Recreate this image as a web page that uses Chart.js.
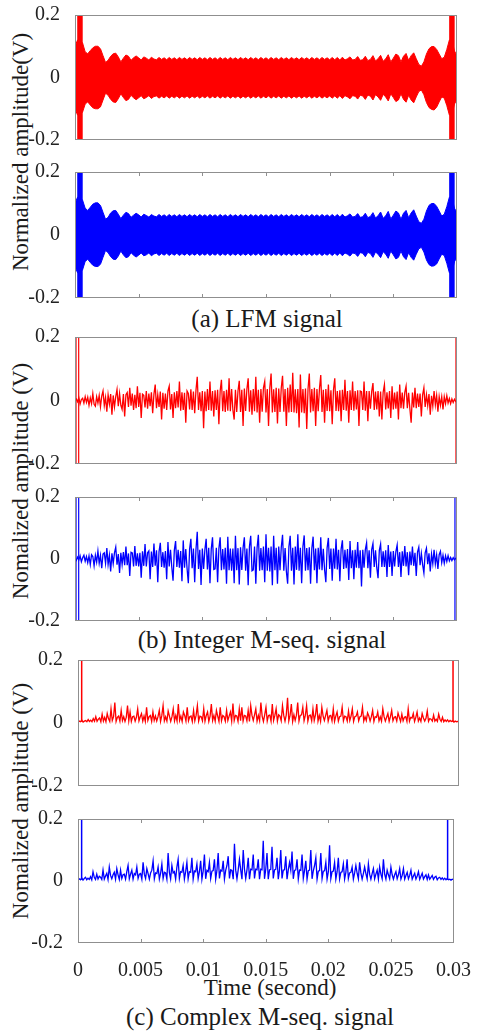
<!DOCTYPE html>
<html><head><meta charset="utf-8">
<script src="https://cdn.jsdelivr.net/npm/chart.js@4.4.1/dist/chart.umd.min.js"></script>
<style>
html,body{margin:0;padding:0;background:#fff;}
body{width:479px;height:1032px;position:relative;overflow:hidden;font-family:'Liberation Serif','Times New Roman',serif;}
.pc{position:absolute;left:0;}
.txt{position:absolute;white-space:nowrap;color:#1a1a1a;line-height:1;font-family:'Liberation Serif','Times New Roman',serif;}
.rot{transform:translate(-50%,-50%) rotate(-90deg);}
</style></head><body>
<div class="txt rot" style="left:20px;top:152px;font-size:23px;">Normalized amplitude(V)</div>
<div class="txt rot" style="left:20px;top:481px;font-size:23px;">Nomalized amplitude (V)</div>
<div class="txt rot" style="left:20px;top:801px;font-size:23px;">Nomalized amplitude (V)</div>
<div class="txt" style="left:267px;top:306px;font-size:25px;transform:translateX(-50%);">(a) LFM signal</div>
<div class="txt" style="left:262px;top:627px;font-size:25px;transform:translateX(-50%);">(b) Integer M-seq. signal</div>
<div class="txt" style="left:270px;top:976px;font-size:23px;transform:translateX(-50%);">Time (second)</div>
<div class="txt" style="left:260px;top:1004px;font-size:25px;transform:translateX(-50%);">(c) Complex M-seq. signal</div>
<script>
// ---- axis ticks ----
const xTickValues = [0, 0.005, 0.01, 0.015, 0.02, 0.025, 0.03];
const xTickLabels = ['0', '0.005', '0.01', '0.015', '0.02', '0.025', '0.03'];
const yTickValues = [-0.2, 0, 0.2];
const yTickLabels = ['-0.2', '0', '0.2'];

// ---- sampling grids (seconds per sample) ----
const lfmStep = 0.0002;
const mseqStep = 0.0001;

// ---- (a) LFM signal envelopes ----
const lfmUpperA = [0.1,0.12,0.12,0.11,0.082,0.076,0.086,0.095,0.1,0.1,
0.092,0.07,0.048,0.055,0.068,0.076,0.078,0.066,0.05,0.062,
0.072,0.068,0.055,0.063,0.069,0.063,0.056,0.066,0.062,0.056,
0.065,0.059,0.057,0.064,0.058,0.063,0.057,0.064,0.058,0.063,
0.057,0.064,0.058,0.063,0.057,0.064,0.058,0.063,0.057,0.064,
0.058,0.063,0.057,0.064,0.058,0.063,0.057,0.064,0.058,0.063,
0.057,0.064,0.058,0.063,0.057,0.064,0.058,0.063,0.057,0.064,
0.058,0.063,0.057,0.064,0.058,0.063,0.057,0.064,0.058,0.063,
0.057,0.064,0.058,0.063,0.057,0.064,0.058,0.063,0.057,0.064,
0.058,0.063,0.057,0.064,0.058,0.063,0.057,0.064,0.058,0.063,
0.057,0.064,0.057,0.064,0.056,0.065,0.056,0.06,0.066,0.056,
0.058,0.067,0.055,0.057,0.068,0.054,0.058,0.07,0.053,0.06,
0.071,0.052,0.06,0.073,0.05,0.062,0.075,0.07,0.05,0.068,
0.077,0.055,0.07,0.079,0.06,0.042,0.036,0.05,0.075,0.092,
0.099,0.099,0.09,0.075,0.06,0.065,0.09,0.12,0.12,0.085,0.07];
const lfmLowerA = [-0.1,-0.12,-0.12,-0.11,-0.085,-0.078,-0.088,-0.097,-0.1,-0.1,
-0.094,-0.072,-0.05,-0.057,-0.07,-0.078,-0.08,-0.068,-0.052,-0.064,
-0.074,-0.07,-0.057,-0.065,-0.071,-0.065,-0.058,-0.068,-0.064,-0.058,
-0.067,-0.061,-0.059,-0.066,-0.06,-0.065,-0.059,-0.066,-0.06,-0.065,
-0.059,-0.066,-0.06,-0.065,-0.059,-0.066,-0.06,-0.065,-0.059,-0.066,
-0.06,-0.065,-0.059,-0.066,-0.06,-0.065,-0.059,-0.066,-0.06,-0.065,
-0.059,-0.066,-0.06,-0.065,-0.059,-0.066,-0.06,-0.065,-0.059,-0.066,
-0.06,-0.065,-0.059,-0.066,-0.06,-0.065,-0.059,-0.066,-0.06,-0.065,
-0.059,-0.066,-0.06,-0.065,-0.059,-0.066,-0.06,-0.065,-0.059,-0.066,
-0.06,-0.065,-0.059,-0.066,-0.06,-0.065,-0.059,-0.066,-0.06,-0.065,
-0.059,-0.066,-0.059,-0.066,-0.058,-0.067,-0.058,-0.062,-0.068,-0.058,
-0.06,-0.069,-0.057,-0.059,-0.07,-0.056,-0.06,-0.072,-0.055,-0.062,
-0.073,-0.054,-0.062,-0.075,-0.052,-0.064,-0.077,-0.072,-0.052,-0.07,
-0.079,-0.057,-0.072,-0.081,-0.062,-0.045,-0.04,-0.055,-0.08,-0.096,
-0.102,-0.104,-0.095,-0.078,-0.062,-0.066,-0.09,-0.12,-0.12,-0.085,-0.07];
const lfmUpperB = [0.1,0.12,0.12,0.11,0.085,0.078,0.088,0.098,0.102,0.102,
0.094,0.072,0.05,0.056,0.07,0.077,0.078,0.066,0.052,0.063,
0.072,0.068,0.056,0.063,0.069,0.064,0.057,0.066,0.062,0.057,
0.065,0.06,0.058,0.065,0.059,0.064,0.058,0.065,0.059,0.064,
0.058,0.065,0.059,0.064,0.058,0.065,0.059,0.064,0.058,0.065,
0.059,0.064,0.058,0.065,0.059,0.064,0.058,0.065,0.059,0.064,
0.058,0.065,0.059,0.064,0.058,0.065,0.059,0.064,0.058,0.065,
0.059,0.064,0.058,0.065,0.059,0.064,0.058,0.065,0.059,0.064,
0.058,0.065,0.059,0.064,0.058,0.065,0.059,0.064,0.058,0.065,
0.059,0.064,0.058,0.065,0.059,0.064,0.058,0.065,0.059,0.064,
0.058,0.065,0.058,0.065,0.057,0.066,0.057,0.061,0.067,0.057,
0.059,0.068,0.056,0.058,0.069,0.055,0.059,0.071,0.054,0.061,
0.073,0.053,0.061,0.075,0.051,0.063,0.076,0.07,0.05,0.069,
0.078,0.055,0.07,0.08,0.06,0.042,0.037,0.05,0.076,0.094,
0.1,0.1,0.091,0.076,0.06,0.066,0.09,0.12,0.12,0.085,0.07];
const lfmLowerB = [-0.1,-0.12,-0.12,-0.11,-0.084,-0.077,-0.087,-0.096,-0.1,-0.1,
-0.093,-0.071,-0.049,-0.056,-0.069,-0.077,-0.078,-0.067,-0.051,-0.063,
-0.072,-0.069,-0.056,-0.064,-0.07,-0.064,-0.057,-0.066,-0.063,-0.057,
-0.066,-0.06,-0.058,-0.065,-0.059,-0.064,-0.058,-0.065,-0.059,-0.064,
-0.058,-0.065,-0.059,-0.064,-0.058,-0.065,-0.059,-0.064,-0.058,-0.065,
-0.059,-0.064,-0.058,-0.065,-0.059,-0.064,-0.058,-0.065,-0.059,-0.064,
-0.058,-0.065,-0.059,-0.064,-0.058,-0.065,-0.059,-0.064,-0.058,-0.065,
-0.059,-0.064,-0.058,-0.065,-0.059,-0.064,-0.058,-0.065,-0.059,-0.064,
-0.058,-0.065,-0.059,-0.064,-0.058,-0.065,-0.059,-0.064,-0.058,-0.065,
-0.059,-0.064,-0.058,-0.065,-0.059,-0.064,-0.058,-0.065,-0.059,-0.064,
-0.058,-0.065,-0.058,-0.065,-0.057,-0.066,-0.057,-0.061,-0.067,-0.057,
-0.059,-0.068,-0.056,-0.058,-0.069,-0.055,-0.059,-0.071,-0.054,-0.061,
-0.072,-0.053,-0.061,-0.074,-0.051,-0.063,-0.076,-0.071,-0.051,-0.069,
-0.078,-0.056,-0.071,-0.08,-0.061,-0.044,-0.039,-0.054,-0.079,-0.094,
-0.099,-0.098,-0.092,-0.076,-0.061,-0.065,-0.09,-0.12,-0.12,-0.085,-0.07];
const lfmSpikeTimes = [0.00039, 0.0296];

// ---- (b) Integer M-sequence signal ----
const intMseqRed = [0,0.005,-0.004,0.009,-0.011,0.003,0.007,-0.008,0.012,-0.006,
0.01,-0.015,0.008,-0.01,0.022,-0.012,-0.018,0.012,-0.008,0.016,
-0.02,0.014,0.03,-0.016,0.01,-0.035,0.018,-0.012,0.02,-0.045,
0.016,-0.02,0.012,0.035,-0.018,0.022,-0.015,-0.028,0.02,-0.05,
0.018,0.025,-0.02,0.04,-0.016,0.022,-0.03,0.018,-0.024,0.045,
-0.02,0.024,-0.055,0.02,0.016,-0.022,0.03,-0.026,0.022,-0.018,
0.026,-0.04,0.02,0.05,-0.024,0.018,-0.02,0.028,-0.06,0.024,
-0.026,0.022,-0.03,0.03,0.045,-0.028,0.02,-0.055,0.026,-0.024,
0.03,-0.022,0.06,-0.032,0.026,-0.03,0.024,-0.07,0.03,0.022,
-0.028,0.035,-0.03,0.028,-0.04,0.032,0.075,-0.03,0.026,-0.034,
0.03,-0.087,0.028,-0.034,0.036,-0.03,0.06,-0.032,0.03,-0.05,
0.032,-0.03,0.034,-0.075,0.03,0.065,-0.034,0.03,-0.036,0.034,
-0.032,0.07,-0.034,0.036,-0.03,-0.06,0.034,-0.036,0.03,0.062,
-0.036,0.034,-0.08,0.038,-0.033,0.036,0.07,-0.035,0.032,-0.045,
0.036,-0.034,0.075,-0.038,0.034,-0.07,0.036,-0.035,0.04,0.06,
-0.038,0.036,-0.08,0.04,0.085,-0.038,0.035,-0.036,0.04,-0.072,
0.038,-0.036,0.04,0.078,-0.035,0.036,-0.08,0.04,-0.038,0.05,
-0.036,0.087,-0.038,0.035,-0.04,0.036,-0.085,0.082,-0.038,0.036,
-0.04,0.038,-0.09,0.036,0.085,-0.038,0.036,-0.034,0.04,-0.08,
0.036,-0.034,0.038,0.08,-0.036,0.034,-0.07,0.036,-0.033,0.05,
-0.034,0.032,-0.075,0.034,0.07,-0.033,0.03,-0.034,0.032,-0.065,
0.034,-0.03,0.065,-0.032,0.03,-0.07,0.032,-0.03,0.06,-0.032,
0.03,-0.028,0.032,-0.08,0.03,0.028,-0.03,0.06,-0.032,0.03,
-0.065,0.03,-0.026,0.028,0.055,-0.03,0.028,-0.028,0.03,-0.05,
0.028,-0.06,0.026,0.05,-0.028,0.026,-0.025,0.03,-0.055,0.045,
-0.028,0.025,-0.026,0.028,-0.06,0.05,-0.024,0.025,-0.026,0.026,
0.045,-0.024,0.024,-0.026,-0.07,0.025,-0.022,0.04,-0.024,0.022,
-0.02,0.022,-0.05,0.018,0.04,-0.02,0.018,-0.016,0.02,-0.045,
0.015,-0.018,0.03,-0.014,0.016,-0.035,0.012,-0.015,0.012,-0.028,
0.012,-0.01,0.015,-0.008,0.006,-0.01,0.005,-0.006,0.004,-0.003,0];
const intMseqBlue = [0,-0.005,0.006,-0.003,0.01,-0.009,0.004,0.012,-0.007,0.008,
-0.012,0.01,-0.018,0.014,0.008,-0.022,0.012,-0.01,0.026,-0.014,
0.012,-0.03,0.016,0.02,-0.014,0.035,-0.018,0.012,-0.04,0.018,
-0.015,0.02,0.038,-0.018,0.016,-0.045,0.02,-0.018,0.022,-0.02,
0.04,-0.02,0.018,-0.055,0.022,0.02,-0.024,0.042,-0.022,0.018,
-0.024,0.02,-0.06,0.025,-0.022,0.048,-0.024,0.02,0.026,-0.065,
0.024,-0.026,0.05,-0.022,0.028,-0.075,0.024,0.052,-0.026,0.022,
-0.028,0.026,-0.065,0.055,-0.024,0.03,-0.026,-0.07,0.028,0.058,
-0.026,0.03,-0.028,0.026,-0.072,0.06,-0.028,0.032,-0.03,-0.078,
0.032,0.065,-0.03,0.034,-0.075,0.03,0.088,-0.032,0.03,-0.084,
0.034,-0.032,0.03,0.065,-0.034,0.036,-0.078,0.032,0.07,-0.034,
-0.032,0.036,-0.075,0.034,0.07,-0.036,0.032,-0.034,0.036,-0.08,
0.072,-0.036,0.034,-0.038,0.034,-0.078,0.075,-0.036,0.035,-0.082,
0.038,-0.035,0.036,0.07,-0.038,0.034,-0.085,0.04,0.075,-0.038,
-0.035,0.04,-0.08,0.036,0.078,-0.038,0.035,-0.036,0.04,-0.075,
0.08,-0.038,0.036,-0.04,0.04,-0.085,0.075,-0.036,0.036,-0.08,
0.04,-0.036,0.038,0.078,-0.038,0.035,-0.04,-0.08,0.04,0.075,
-0.038,0.036,-0.082,0.04,-0.035,0.08,-0.038,0.036,-0.078,0.04,
0.076,-0.038,0.035,-0.036,0.038,-0.08,0.034,0.072,-0.036,0.034,
-0.078,0.036,-0.034,0.07,-0.036,0.033,-0.034,-0.075,0.036,0.068,
-0.032,0.034,-0.07,0.034,-0.031,0.065,-0.034,0.03,-0.072,0.032,
0.06,-0.032,0.03,-0.03,0.032,-0.068,0.058,-0.03,0.028,-0.065,
0.03,-0.028,0.055,-0.03,0.028,-0.089,0.03,-0.028,0.03,0.052,
-0.03,0.028,-0.06,0.03,0.05,-0.026,0.028,-0.028,-0.062,0.028,
0.048,-0.026,0.025,-0.026,0.028,-0.058,0.045,-0.026,0.024,-0.055,
0.026,-0.024,0.024,0.045,-0.026,0.022,-0.058,0.025,-0.022,0.042,
-0.024,0.022,-0.052,0.024,-0.02,0.04,-0.022,0.02,-0.055,0.022,
0.038,-0.02,0.018,-0.018,-0.045,0.02,0.035,-0.017,0.018,-0.04,
0.016,-0.015,0.03,-0.016,0.013,-0.032,0.014,0.025,-0.012,0.012,
-0.014,0.01,-0.008,0.011,-0.006,0.005,-0.005,0.004,-0.003,0.002,0];
const intSpikeTimesRed = [0.00008, 0.00029, 0.02992];
const intSpikeTimesBlue = [0.00008, 0.00029, 0.02984];

// ---- (c) Complex M-sequence signal ----
const cmpMseqRed = [0.002,0.006,0.004,0.009,0.003,0.006,0.008,0.004,0.011,0.005,
0.009,0.004,0.014,0.006,0.02,0.005,0.012,0.016,0.004,0.028,
0.006,0.018,0.004,0.03,0.014,0.005,0.045,0.008,0.02,0.065,
0.005,0.018,0.022,0.006,0.04,0.008,0.02,0.005,0.018,0.055,
0.007,0.035,0.005,0.02,0.022,0.006,0.018,0.045,0.007,0.02,
0.03,0.006,0.022,0.005,0.05,0.008,0.02,0.024,0.005,0.035,
0.008,0.022,0.006,0.02,0.04,0.005,0.024,0.055,0.007,0.02,
0.006,0.038,0.022,0.005,0.02,0.045,0.007,0.024,0.006,0.06,
0.008,0.022,0.005,0.035,0.024,0.006,0.05,0.007,0.02,0.022,
0.005,0.04,0.007,0.024,0.055,0.006,0.022,0.02,0.007,0.045,
0.006,0.024,0.035,0.005,0.022,0.06,0.008,0.024,0.006,0.04,
0.022,0.005,0.05,0.007,0.024,0.02,0.006,0.04,0.008,0.022,
0.035,0.006,0.062,0.008,0.024,0.022,0.005,0.045,0.007,0.05,
0.006,0.024,0.022,0.007,0.04,0.005,0.055,0.024,0.008,0.026,
0.045,0.006,0.024,0.007,0.065,0.022,0.005,0.026,0.05,0.006,
0.024,0.025,0.006,0.06,0.008,0.024,0.045,0.006,0.026,0.022,
0.007,0.055,0.024,0.006,0.026,0.08,0.007,0.025,0.06,0.005,
0.026,0.008,0.025,0.065,0.006,0.024,0.026,0.05,0.007,0.024,
0.055,0.006,0.024,0.025,0.007,0.045,0.008,0.026,0.06,0.006,
0.024,0.005,0.05,0.022,0.008,0.024,0.04,0.006,0.022,0.024,
0.007,0.045,0.005,0.022,0.035,0.006,0.02,0.022,0.05,0.007,
0.022,0.02,0.006,0.038,0.008,0.022,0.045,0.005,0.02,0.022,
0.035,0.007,0.02,0.022,0.05,0.006,0.02,0.008,0.032,0.022,
0.006,0.02,0.04,0.005,0.02,0.018,0.035,0.007,0.02,0.006,
0.045,0.02,0.006,0.018,0.03,0.005,0.02,0.04,0.007,0.018,
0.02,0.006,0.032,0.018,0.005,0.028,0.007,0.018,0.02,0.005,
0.045,0.006,0.018,0.016,0.03,0.005,0.018,0.035,0.006,0.016,
0.005,0.03,0.016,0.006,0.015,0.038,0.005,0.014,0.012,0.006,
0.025,0.006,0.012,0.005,0.028,0.012,0.005,0.018,0.004,0.01,
0.005,0.01,0.004,0.008,0.005,0.007,0.003,0.006,0.004,0.005,0.004];
const cmpMseqBlue = [0.002,0.007,0.004,0.01,0.003,0.008,0.012,0.004,0.009,0.005,
0.014,0.004,0.03,0.012,0.005,0.022,0.006,0.015,0.012,0.005,
0.035,0.006,0.016,0.025,0.005,0.045,0.018,0.007,0.02,0.028,
0.006,0.04,0.02,0.005,0.035,0.008,0.02,0.022,0.006,0.03,
0.05,0.007,0.022,0.035,0.006,0.024,0.02,0.045,0.008,0.022,
0.024,0.006,0.06,0.022,0.008,0.04,0.024,0.006,0.026,0.035,
0.065,0.007,0.026,0.024,0.045,0.006,0.025,0.055,0.008,0.028,
0.026,0.006,0.09,0.028,0.007,0.05,0.026,0.03,0.006,0.045,
0.07,0.008,0.03,0.028,0.05,0.006,0.03,0.06,0.007,0.03,
0.028,0.075,0.006,0.032,0.03,0.055,0.008,0.03,0.065,0.006,
0.032,0.085,0.007,0.034,0.03,0.06,0.008,0.032,0.034,0.07,
0.006,0.034,0.09,0.008,0.035,0.032,0.065,0.006,0.034,0.05,
0.08,0.008,0.036,0.034,0.006,0.12,0.035,0.007,0.036,0.07,
0.036,0.006,0.1,0.038,0.008,0.036,0.075,0.006,0.038,0.036,
0.085,0.008,0.038,0.036,0.07,0.006,0.038,0.036,0.13,0.007,
0.038,0.09,0.006,0.036,0.038,0.11,0.008,0.036,0.038,0.075,
0.006,0.036,0.1,0.008,0.035,0.036,0.08,0.006,0.036,0.06,
0.035,0.095,0.007,0.034,0.036,0.07,0.006,0.035,0.034,0.085,
0.008,0.034,0.065,0.006,0.033,0.035,0.1,0.007,0.033,0.05,
0.075,0.006,0.032,0.034,0.09,0.008,0.032,0.033,0.06,0.006,
0.03,0.115,0.008,0.03,0.032,0.06,0.006,0.03,0.075,0.007,
0.028,0.03,0.055,0.006,0.028,0.07,0.008,0.026,0.028,0.045,
0.006,0.026,0.05,0.025,0.007,0.06,0.026,0.006,0.024,0.045,
0.024,0.007,0.055,0.022,0.006,0.024,0.04,0.007,0.022,0.035,
0.006,0.045,0.022,0.007,0.07,0.022,0.006,0.035,0.02,0.007,
0.045,0.02,0.006,0.02,0.03,0.007,0.02,0.04,0.006,0.018,
0.04,0.006,0.018,0.028,0.007,0.018,0.035,0.006,0.016,0.025,
0.006,0.016,0.03,0.005,0.015,0.025,0.006,0.014,0.02,0.005,
0.02,0.006,0.012,0.018,0.005,0.012,0.015,0.004,0.01,0.012,
0.005,0.01,0.004,0.009,0.004,0.008,0.004,0.006,0.003,0.006,0.004];
const cmpSpikeTimesRed = [0.00029, 0.02953];
const cmpSpikeTimesBlue = [0.00029, 0.02953];

// vertical extent of edge spikes (beyond axis limits, clipped)
const spikeFull = [-0.3, 0.3];
const spikeUp = [0.004, 0.3];

// ---------------- rendering ----------------
const RED = '#ff0000', BLUE = '#0000ff';
const FONT = "'Liberation Serif','Times New Roman',serif";
const toXY = (vals, step) => vals.map((v, i) => ({x: i * step, y: v}));
const spikeXY = (times, range) => times.flatMap(t => [{x: t, y: range[0]}, {x: t, y: range[1]}, {x: t, y: null}]);

const boxPlugin = {
  id: 'box',
  afterDatasetsDraw(chart, args, opts) {
    const {ctx, chartArea: a} = chart;
    ctx.save();
    ctx.strokeStyle = '#8f8f8f';
    ctx.lineWidth = 1;
    ctx.strokeRect(Math.round(a.left) + 0.5, Math.round(a.top) + 0.5,
                   Math.round(a.right - a.left) - 1, Math.round(a.bottom - a.top) - 1);
    if (opts && opts.ticks) {
      const xs = chart.scales.x;
      ctx.beginPath();
      xTickValues.slice(1, -1).forEach(v => {
        const px = Math.round(xs.getPixelForValue(v)) + 0.5;
        ctx.moveTo(px, a.top); ctx.lineTo(px, a.top + 4);
        ctx.moveTo(px, a.bottom); ctx.lineTo(px, a.bottom - 4);
      });
      ctx.stroke();
    }
    ctx.restore();
  }
};

const panels = [
  {top: 15,  bottom: 140, left: 75, right: 457, ticks: false, xlabels: false},
  {top: 172, bottom: 298, left: 75, right: 457, ticks: true,  xlabels: false},
  {top: 337, bottom: 464, left: 75, right: 457, ticks: false, xlabels: false},
  {top: 497, bottom: 621, left: 75, right: 457, ticks: true,  xlabels: false},
  {top: 660, bottom: 786, left: 78, right: 459, ticks: false, xlabels: false},
  {top: 819, bottom: 943, left: 78, right: 459, ticks: true,  xlabels: true}
];

const lineDs = (data, color, extra) => Object.assign({
  data, borderColor: color, backgroundColor: color, borderWidth: 1,
  pointRadius: 0, tension: 0, fill: false, clip: 0, spanGaps: false
}, extra || {});

const SIG_W = 1.3;
const panelData = [
  [lineDs(toXY(lfmUpperA, lfmStep), RED, {fill: '+1'}), lineDs(toXY(lfmLowerA, lfmStep), RED),
   lineDs(spikeXY(lfmSpikeTimes, spikeFull), RED, {borderWidth: 5.5, borderCapStyle: 'butt'})],
  [lineDs(toXY(lfmUpperB, lfmStep), BLUE, {fill: '+1'}), lineDs(toXY(lfmLowerB, lfmStep), BLUE),
   lineDs(spikeXY(lfmSpikeTimes, spikeFull), BLUE, {borderWidth: 5.5, borderCapStyle: 'butt'})],
  [lineDs(toXY(intMseqRed, mseqStep), RED, {borderWidth: SIG_W}), lineDs(spikeXY(intSpikeTimesRed, spikeFull), RED, {borderWidth: 1.2})],
  [lineDs(toXY(intMseqBlue, mseqStep), BLUE, {borderWidth: SIG_W}), lineDs(spikeXY(intSpikeTimesBlue, spikeFull), BLUE, {borderWidth: 1.2})],
  [lineDs(toXY(cmpMseqRed, mseqStep), RED, {borderWidth: SIG_W}), lineDs(spikeXY(cmpSpikeTimesRed, spikeUp), RED, {borderWidth: 1.5})],
  [lineDs(toXY(cmpMseqBlue, mseqStep), BLUE, {borderWidth: SIG_W}), lineDs(spikeXY(cmpSpikeTimesBlue, spikeUp), BLUE, {borderWidth: 1.5})]
];

panels.forEach((p, k) => {
  const padT = 12, padB = p.xlabels ? 0 : 12, xH = 36;
  const h = (p.bottom - p.top) + padT + (p.xlabels ? xH : padB);
  const wrap = document.createElement('div');
  wrap.className = 'pc';
  wrap.style.top = (p.top - padT) + 'px';
  wrap.style.width = '479px';
  wrap.style.height = h + 'px';
  const cv = document.createElement('canvas');
  cv.width = 479; cv.height = h;
  cv.style.width = '479px'; cv.style.height = h + 'px';
  wrap.appendChild(cv);
  document.body.appendChild(wrap);
  const chart = new Chart(cv, {
    type: 'line',
    data: {datasets: panelData[k]},
    plugins: [boxPlugin],
    options: {
      responsive: false, maintainAspectRatio: false, animation: false, events: [],
      layout: {padding: {top: padT, bottom: padB, left: 0, right: 479 - p.right}},
      plugins: {legend: {display: false}, tooltip: {enabled: false}, box: {ticks: p.ticks}},
      scales: {
        x: {
          type: 'linear', min: 0, max: 0.03, display: p.xlabels,
          afterBuildTicks: s => { s.ticks = xTickValues.map(v => ({value: v})); },
          afterFit: s => { if (p.xlabels) s.height = xH; },
          grid: {display: false}, border: {display: false},
          ticks: {autoSkip: false, maxRotation: 0, padding: 8, color: '#222',
                  font: {family: FONT, size: 20},
                  callback: (v, i) => xTickLabels[i]}
        },
        y: {
          type: 'linear', min: -0.2, max: 0.2,
          afterBuildTicks: s => { s.ticks = yTickValues.map(v => ({value: v})); },
          afterFit: s => { s.width = p.left; },
          grid: {display: false}, border: {display: false},
          ticks: {padding: 7, color: '#222', font: {family: FONT, size: 20},
                  callback: (v, i) => yTickLabels[i]}
        }
      }
    }
  });
  // keep the plot box exactly at the intended place: grow/shrink the canvas
  const a = chart.chartArea;
  const topM = a.top, botM = h - a.bottom;
  const newH = Math.round(topM + (p.bottom - p.top) + botM);
  wrap.style.top = (p.top - Math.round(topM)) + 'px';
  wrap.style.height = newH + 'px';
  if (newH !== h) {
    cv.style.height = newH + 'px';
    chart.resize(479, newH);
  }
});
</script>
</body></html>
